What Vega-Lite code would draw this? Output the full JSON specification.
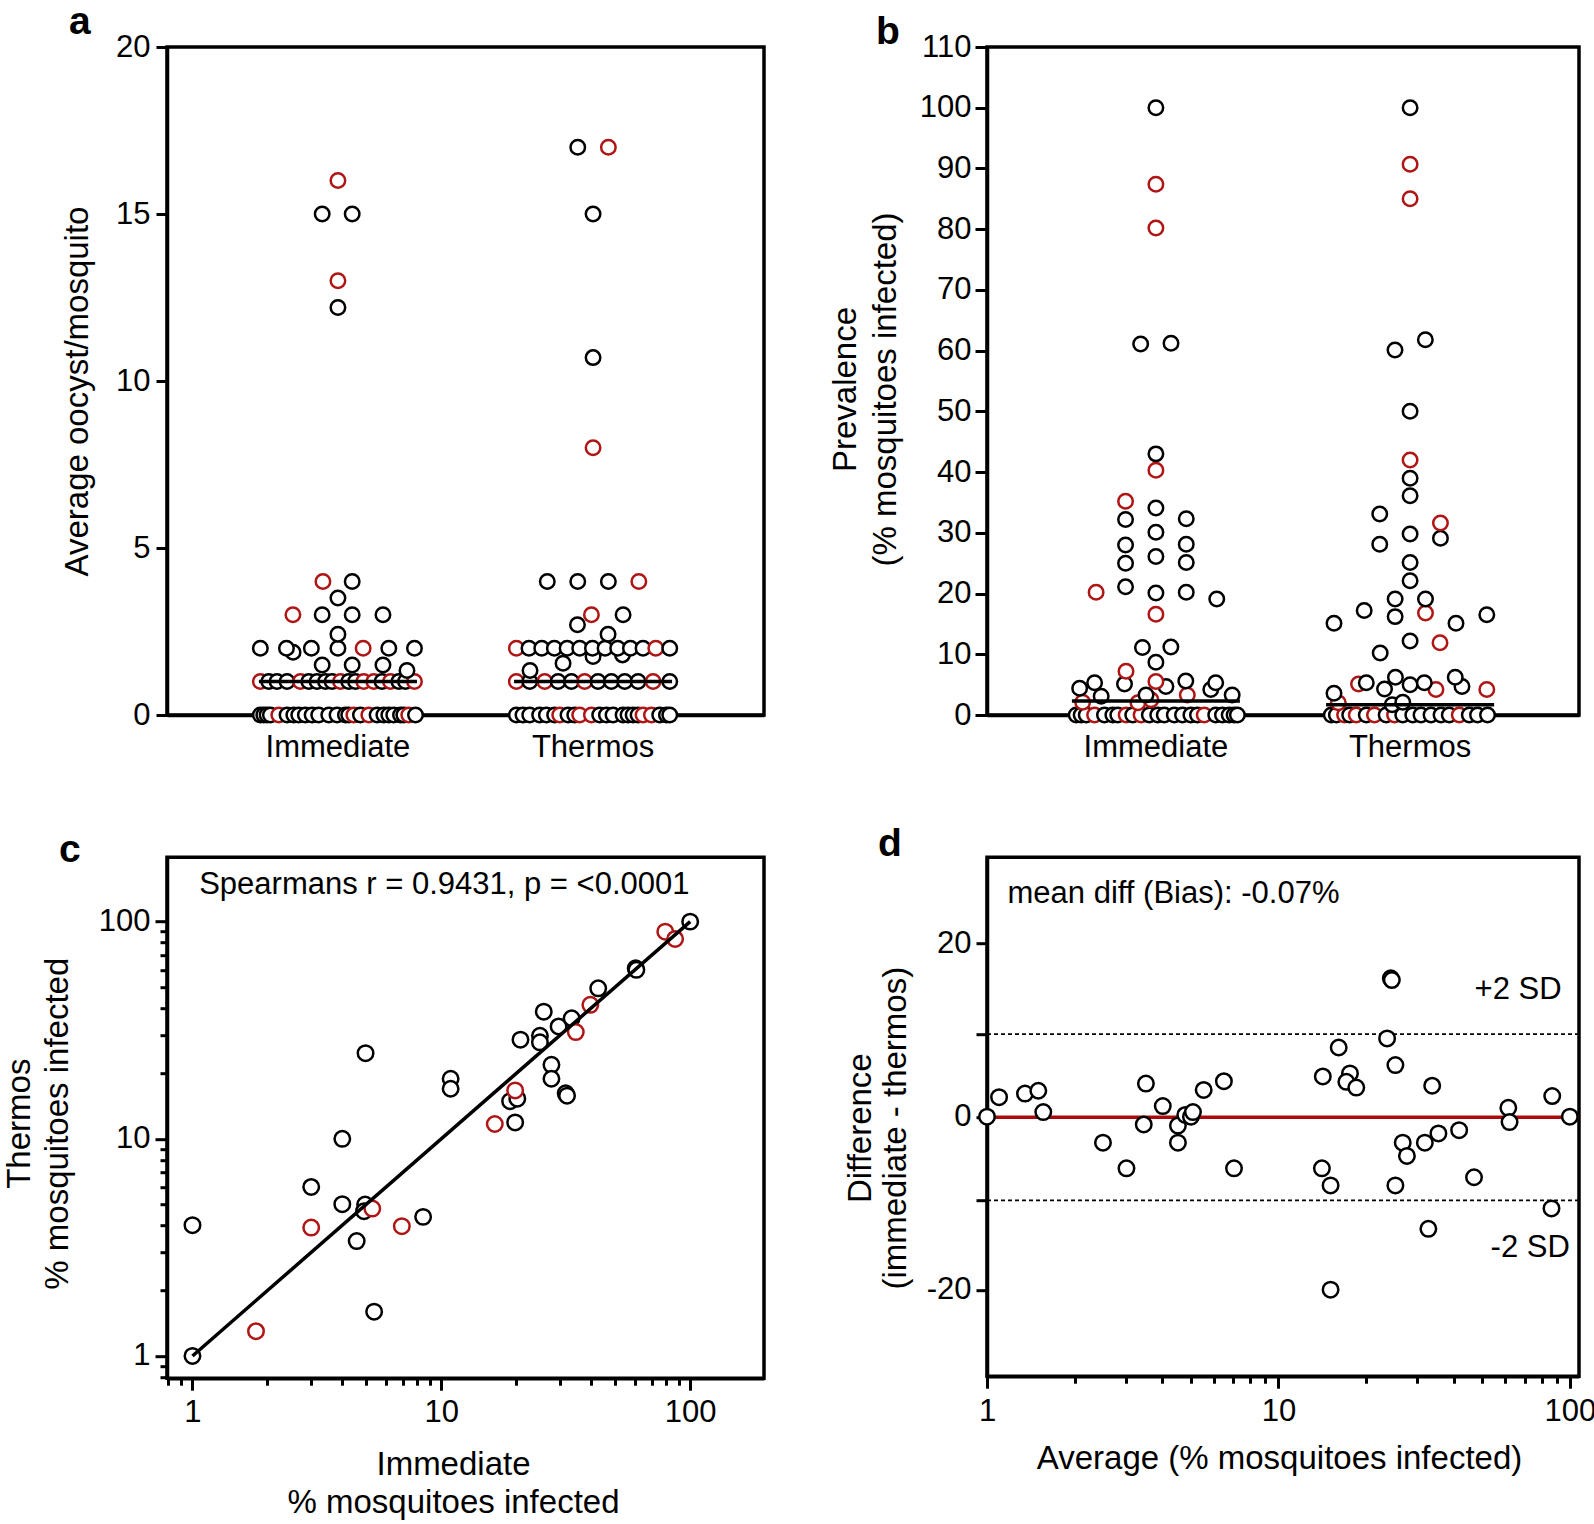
{
"$schema":"https://vega.github.io/schema/vega-lite/v6.json",
"background":"white",
"padding":{"left":1,"top":0,"right":0,"bottom":0},
"config":{"font":"Liberation Sans","view":{"stroke":"black","strokeWidth":3.5},
 "axis":{"domainColor":"black","domainWidth":3.5,"tickColor":"black","tickWidth":3,"labelColor":"black","titleColor":"black","labelFont":"Liberation Sans","titleFont":"Liberation Sans","labelFontSize":31,"titleFontSize":33,"titleFontWeight":"normal","grid":false,"labelFlush":false,"labelOverlap":false},
 "title":{"font":"Liberation Sans","fontSize":39,"fontWeight":"bold","color":"black","anchor":"start","frame":"group","baseline":"alphabetic","offset":0}},
"datasets":{
"stripA":[
{"group":"Immediate","value":0,"jitter":-5.17,"set":"main"},{"group":"Immediate","value":0,"jitter":-4.94,"set":"main"},{"group":"Immediate","value":0,"jitter":-4.72,"set":"main"},{"group":"Immediate","value":0,"jitter":-4.5,"set":"main"},{"group":"Immediate","value":0,"jitter":-3.94,"set":"highlighted"},{"group":"Immediate","value":0,"jitter":-3.39,"set":"main"},{"group":"Immediate","value":0,"jitter":-2.94,"set":"main"},{"group":"Immediate","value":0,"jitter":-2.61,"set":"main"},{"group":"Immediate","value":0,"jitter":-2.17,"set":"main"},{"group":"Immediate","value":0,"jitter":-1.72,"set":"main"},{"group":"Immediate","value":0,"jitter":-1.28,"set":"main"},{"group":"Immediate","value":0,"jitter":-0.61,"set":"main"},{"group":"Immediate","value":0,"jitter":-0.06,"set":"main"},{"group":"Immediate","value":0,"jitter":0.5,"set":"main"},{"group":"Immediate","value":0,"jitter":0.72,"set":"main"},{"group":"Immediate","value":0,"jitter":1.06,"set":"highlighted"},{"group":"Immediate","value":0,"jitter":1.5,"set":"main"},{"group":"Immediate","value":0,"jitter":2.06,"set":"highlighted"},{"group":"Immediate","value":0,"jitter":2.61,"set":"main"},{"group":"Immediate","value":0,"jitter":3.06,"set":"main"},{"group":"Immediate","value":0,"jitter":3.39,"set":"main"},{"group":"Immediate","value":0,"jitter":3.72,"set":"main"},{"group":"Immediate","value":0,"jitter":4.17,"set":"main"},{"group":"Immediate","value":0,"jitter":4.39,"set":"main"},{"group":"Immediate","value":0,"jitter":4.72,"set":"highlighted"},{"group":"Immediate","value":0,"jitter":5.17,"set":"main"},
{"group":"Immediate","value":1,"jitter":-5.17,"set":"highlighted"},{"group":"Immediate","value":1,"jitter":-4.61,"set":"main"},{"group":"Immediate","value":1,"jitter":-4.06,"set":"main"},{"group":"Immediate","value":1,"jitter":-3.39,"set":"main"},{"group":"Immediate","value":1,"jitter":-2.5,"set":"highlighted"},{"group":"Immediate","value":1,"jitter":-1.94,"set":"main"},{"group":"Immediate","value":1,"jitter":-1.39,"set":"main"},{"group":"Immediate","value":1,"jitter":-0.83,"set":"main"},{"group":"Immediate","value":1,"jitter":-0.39,"set":"main"},{"group":"Immediate","value":1,"jitter":0.17,"set":"highlighted"},{"group":"Immediate","value":1,"jitter":0.72,"set":"main"},{"group":"Immediate","value":1,"jitter":1.17,"set":"main"},{"group":"Immediate","value":1,"jitter":1.72,"set":"highlighted"},{"group":"Immediate","value":1,"jitter":2.39,"set":"highlighted"},{"group":"Immediate","value":1,"jitter":2.94,"set":"main"},{"group":"Immediate","value":1,"jitter":3.5,"set":"highlighted"},{"group":"Immediate","value":1,"jitter":4.06,"set":"main"},{"group":"Immediate","value":1,"jitter":4.5,"set":"main"},{"group":"Immediate","value":1,"jitter":5.1,"set":"highlighted"},
{"group":"Immediate","value":1.33,"jitter":4.6,"set":"main"},{"group":"Immediate","value":1.5,"jitter":-1.05,"set":"main"},{"group":"Immediate","value":1.5,"jitter":0.95,"set":"main"},{"group":"Immediate","value":1.5,"jitter":3.0,"set":"main"},{"group":"Immediate","value":1.88,"jitter":-2.99,"set":"main"},
{"group":"Immediate","value":2,"jitter":-5.17,"set":"main"},{"group":"Immediate","value":2,"jitter":-3.43,"set":"main"},{"group":"Immediate","value":2,"jitter":-1.77,"set":"main"},{"group":"Immediate","value":2,"jitter":0,"set":"main"},{"group":"Immediate","value":2,"jitter":1.68,"set":"highlighted"},{"group":"Immediate","value":2,"jitter":3.39,"set":"main"},{"group":"Immediate","value":2,"jitter":5.1,"set":"main"},
{"group":"Immediate","value":2.42,"jitter":0,"set":"main"},{"group":"Immediate","value":3,"jitter":-3.0,"set":"highlighted"},{"group":"Immediate","value":3,"jitter":-1.05,"set":"main"},{"group":"Immediate","value":3,"jitter":0.95,"set":"main"},{"group":"Immediate","value":3,"jitter":3.0,"set":"main"},{"group":"Immediate","value":3.5,"jitter":0,"set":"main"},{"group":"Immediate","value":4,"jitter":-1.0,"set":"highlighted"},{"group":"Immediate","value":4,"jitter":0.95,"set":"main"},
{"group":"Immediate","value":12.2,"jitter":0,"set":"main"},{"group":"Immediate","value":13,"jitter":0,"set":"highlighted"},{"group":"Immediate","value":15,"jitter":-1.05,"set":"main"},{"group":"Immediate","value":15,"jitter":0.95,"set":"main"},{"group":"Immediate","value":16,"jitter":0,"set":"highlighted"},
{"group":"Thermos","value":0,"jitter":-5.11,"set":"main"},{"group":"Thermos","value":0,"jitter":-4.67,"set":"main"},{"group":"Thermos","value":0,"jitter":-4.22,"set":"main"},{"group":"Thermos","value":0,"jitter":-3.56,"set":"main"},{"group":"Thermos","value":0,"jitter":-3.11,"set":"main"},{"group":"Thermos","value":0,"jitter":-2.56,"set":"main"},{"group":"Thermos","value":0,"jitter":-2.22,"set":"highlighted"},{"group":"Thermos","value":0,"jitter":-1.67,"set":"main"},{"group":"Thermos","value":0,"jitter":-1.22,"set":"main"},{"group":"Thermos","value":0,"jitter":-0.89,"set":"highlighted"},{"group":"Thermos","value":0,"jitter":-0.11,"set":"highlighted"},{"group":"Thermos","value":0,"jitter":0.44,"set":"main"},{"group":"Thermos","value":0,"jitter":0.89,"set":"main"},{"group":"Thermos","value":0,"jitter":1.33,"set":"main"},{"group":"Thermos","value":0,"jitter":2.0,"set":"main"},{"group":"Thermos","value":0,"jitter":2.33,"set":"main"},{"group":"Thermos","value":0,"jitter":2.67,"set":"main"},{"group":"Thermos","value":0,"jitter":3.0,"set":"main"},{"group":"Thermos","value":0,"jitter":3.33,"set":"highlighted"},{"group":"Thermos","value":0,"jitter":3.89,"set":"highlighted"},{"group":"Thermos","value":0,"jitter":4.44,"set":"main"},{"group":"Thermos","value":0,"jitter":4.89,"set":"main"},{"group":"Thermos","value":0,"jitter":5.11,"set":"main"},
{"group":"Thermos","value":1,"jitter":-5.11,"set":"highlighted"},{"group":"Thermos","value":1,"jitter":-4.22,"set":"main"},{"group":"Thermos","value":1,"jitter":-3.22,"set":"highlighted"},{"group":"Thermos","value":1,"jitter":-2.33,"set":"main"},{"group":"Thermos","value":1,"jitter":-1.44,"set":"main"},{"group":"Thermos","value":1,"jitter":-0.56,"set":"highlighted"},{"group":"Thermos","value":1,"jitter":0.33,"set":"main"},{"group":"Thermos","value":1,"jitter":1.22,"set":"main"},{"group":"Thermos","value":1,"jitter":2.11,"set":"main"},{"group":"Thermos","value":1,"jitter":3.0,"set":"main"},{"group":"Thermos","value":1,"jitter":4.0,"set":"highlighted"},{"group":"Thermos","value":1,"jitter":5.11,"set":"main"},
{"group":"Thermos","value":1.33,"jitter":-4.2,"set":"main"},{"group":"Thermos","value":1.55,"jitter":-2.0,"set":"main"},{"group":"Thermos","value":1.75,"jitter":0,"set":"main"},{"group":"Thermos","value":1.8,"jitter":1.96,"set":"main"},
{"group":"Thermos","value":2,"jitter":-5.11,"set":"highlighted"},{"group":"Thermos","value":2,"jitter":-4.27,"set":"main"},{"group":"Thermos","value":2,"jitter":-3.42,"set":"main"},{"group":"Thermos","value":2,"jitter":-2.58,"set":"main"},{"group":"Thermos","value":2,"jitter":-1.73,"set":"main"},{"group":"Thermos","value":2,"jitter":-0.89,"set":"main"},{"group":"Thermos","value":2,"jitter":-0.04,"set":"main"},{"group":"Thermos","value":2,"jitter":0.8,"set":"main"},{"group":"Thermos","value":2,"jitter":1.64,"set":"main"},{"group":"Thermos","value":2,"jitter":2.49,"set":"main"},{"group":"Thermos","value":2,"jitter":3.33,"set":"main"},{"group":"Thermos","value":2,"jitter":4.18,"set":"highlighted"},{"group":"Thermos","value":2,"jitter":5.11,"set":"main"},
{"group":"Thermos","value":2.42,"jitter":1.0,"set":"main"},{"group":"Thermos","value":2.7,"jitter":-1.04,"set":"main"},{"group":"Thermos","value":3,"jitter":-0.11,"set":"highlighted"},{"group":"Thermos","value":3,"jitter":2.0,"set":"main"},{"group":"Thermos","value":4,"jitter":-3.05,"set":"main"},{"group":"Thermos","value":4,"jitter":-1.02,"set":"main"},{"group":"Thermos","value":4,"jitter":1.02,"set":"main"},{"group":"Thermos","value":4,"jitter":3.05,"set":"highlighted"},
{"group":"Thermos","value":8,"jitter":0,"set":"highlighted"},{"group":"Thermos","value":10.7,"jitter":0,"set":"main"},{"group":"Thermos","value":15,"jitter":0,"set":"main"},{"group":"Thermos","value":17,"jitter":-1.02,"set":"main"},{"group":"Thermos","value":17,"jitter":1.02,"set":"highlighted"}
],
"mediansA":[{"group":"Immediate","value":1},{"group":"Thermos","value":1}],
"stripB":[
{"group":"Immediate","value":0,"jitter":-5.33,"set":"main"},{"group":"Immediate","value":0,"jitter":-5.0,"set":"main"},{"group":"Immediate","value":0,"jitter":-4.66,"set":"main"},{"group":"Immediate","value":0,"jitter":-4.1,"set":"highlighted"},{"group":"Immediate","value":0,"jitter":-3.44,"set":"main"},{"group":"Immediate","value":0,"jitter":-2.88,"set":"main"},{"group":"Immediate","value":0,"jitter":-2.55,"set":"main"},{"group":"Immediate","value":0,"jitter":-1.99,"set":"highlighted"},{"group":"Immediate","value":0,"jitter":-1.55,"set":"main"},{"group":"Immediate","value":0,"jitter":-0.99,"set":"highlighted"},{"group":"Immediate","value":0,"jitter":-0.44,"set":"main"},{"group":"Immediate","value":0,"jitter":0.12,"set":"main"},{"group":"Immediate","value":0,"jitter":0.56,"set":"main"},{"group":"Immediate","value":0,"jitter":1.23,"set":"main"},{"group":"Immediate","value":0,"jitter":1.78,"set":"main"},{"group":"Immediate","value":0,"jitter":2.34,"set":"main"},{"group":"Immediate","value":0,"jitter":2.78,"set":"main"},{"group":"Immediate","value":0,"jitter":3.23,"set":"highlighted"},{"group":"Immediate","value":0,"jitter":4.0,"set":"main"},{"group":"Immediate","value":0,"jitter":4.45,"set":"main"},{"group":"Immediate","value":0,"jitter":4.9,"set":"main"},{"group":"Immediate","value":0,"jitter":5.23,"set":"main"},{"group":"Immediate","value":0,"jitter":5.45,"set":"main"},
{"group":"Immediate","value":2.0,"jitter":-1.2,"set":"highlighted"},{"group":"Immediate","value":2.1,"jitter":-4.9,"set":"highlighted"},{"group":"Immediate","value":2.5,"jitter":-0.33,"set":"highlighted"},{"group":"Immediate","value":3.1,"jitter":-3.66,"set":"main"},{"group":"Immediate","value":3.3,"jitter":-0.66,"set":"main"},{"group":"Immediate","value":3.3,"jitter":2.1,"set":"highlighted"},{"group":"Immediate","value":3.3,"jitter":5.1,"set":"main"},{"group":"Immediate","value":4.2,"jitter":3.67,"set":"main"},{"group":"Immediate","value":4.4,"jitter":-5.1,"set":"main"},{"group":"Immediate","value":4.7,"jitter":0.67,"set":"main"},{"group":"Immediate","value":5.1,"jitter":-2.1,"set":"main"},{"group":"Immediate","value":5.3,"jitter":-4.1,"set":"main"},{"group":"Immediate","value":5.3,"jitter":4.0,"set":"main"},{"group":"Immediate","value":5.5,"jitter":0,"set":"highlighted"},{"group":"Immediate","value":5.6,"jitter":2.0,"set":"main"},{"group":"Immediate","value":7.2,"jitter":-2.0,"set":"highlighted"},{"group":"Immediate","value":8.7,"jitter":0,"set":"main"},{"group":"Immediate","value":11.1,"jitter":-0.9,"set":"main"},{"group":"Immediate","value":11.2,"jitter":1.0,"set":"main"},{"group":"Immediate","value":16.6,"jitter":0,"set":"highlighted"},{"group":"Immediate","value":19.1,"jitter":4.07,"set":"main"},{"group":"Immediate","value":20.2,"jitter":-4.0,"set":"highlighted"},{"group":"Immediate","value":20.1,"jitter":0,"set":"main"},{"group":"Immediate","value":20.2,"jitter":2.03,"set":"main"},{"group":"Immediate","value":21.1,"jitter":-2.03,"set":"main"},{"group":"Immediate","value":25.0,"jitter":-2.03,"set":"main"},{"group":"Immediate","value":25.1,"jitter":2.03,"set":"main"},{"group":"Immediate","value":26.1,"jitter":0,"set":"main"},{"group":"Immediate","value":28.0,"jitter":-2.03,"set":"main"},{"group":"Immediate","value":28.1,"jitter":2.03,"set":"main"},{"group":"Immediate","value":30.1,"jitter":0,"set":"main"},{"group":"Immediate","value":32.2,"jitter":-2.03,"set":"main"},{"group":"Immediate","value":32.3,"jitter":2.03,"set":"main"},{"group":"Immediate","value":34.1,"jitter":0,"set":"main"},{"group":"Immediate","value":35.2,"jitter":-2.03,"set":"highlighted"},{"group":"Immediate","value":40.3,"jitter":0,"set":"highlighted"},{"group":"Immediate","value":43.0,"jitter":0,"set":"main"},{"group":"Immediate","value":61.1,"jitter":-1.02,"set":"main"},{"group":"Immediate","value":61.2,"jitter":1.01,"set":"main"},{"group":"Immediate","value":80.2,"jitter":0,"set":"highlighted"},{"group":"Immediate","value":87.4,"jitter":0,"set":"highlighted"},{"group":"Immediate","value":100,"jitter":0,"set":"main"},
{"group":"Thermos","value":0,"jitter":-5.27,"set":"main"},{"group":"Thermos","value":0,"jitter":-4.93,"set":"main"},{"group":"Thermos","value":0,"jitter":-4.38,"set":"highlighted"},{"group":"Thermos","value":0,"jitter":-4.04,"set":"main"},{"group":"Thermos","value":0,"jitter":-3.6,"set":"highlighted"},{"group":"Thermos","value":0,"jitter":-2.93,"set":"main"},{"group":"Thermos","value":0,"jitter":-2.38,"set":"highlighted"},{"group":"Thermos","value":0,"jitter":-1.6,"set":"main"},{"group":"Thermos","value":0,"jitter":-1.04,"set":"highlighted"},{"group":"Thermos","value":0,"jitter":-0.49,"set":"main"},{"group":"Thermos","value":0,"jitter":0.18,"set":"main"},{"group":"Thermos","value":0,"jitter":0.73,"set":"main"},{"group":"Thermos","value":0,"jitter":1.4,"set":"main"},{"group":"Thermos","value":0,"jitter":2.07,"set":"main"},{"group":"Thermos","value":0,"jitter":2.62,"set":"main"},{"group":"Thermos","value":0,"jitter":3.29,"set":"highlighted"},{"group":"Thermos","value":0,"jitter":3.96,"set":"main"},{"group":"Thermos","value":0,"jitter":4.51,"set":"main"},{"group":"Thermos","value":0,"jitter":5.18,"set":"main"},
{"group":"Thermos","value":1.7,"jitter":-1.2,"set":"main"},{"group":"Thermos","value":2.0,"jitter":-4.8,"set":"highlighted"},{"group":"Thermos","value":2.1,"jitter":-0.49,"set":"main"},{"group":"Thermos","value":3.6,"jitter":-5.09,"set":"main"},{"group":"Thermos","value":4.2,"jitter":1.73,"set":"highlighted"},{"group":"Thermos","value":4.2,"jitter":5.13,"set":"highlighted"},{"group":"Thermos","value":4.3,"jitter":-1.71,"set":"main"},{"group":"Thermos","value":4.7,"jitter":3.47,"set":"main"},{"group":"Thermos","value":5.0,"jitter":0,"set":"main"},{"group":"Thermos","value":5.1,"jitter":-3.45,"set":"highlighted"},{"group":"Thermos","value":5.3,"jitter":-2.93,"set":"main"},{"group":"Thermos","value":5.3,"jitter":0.95,"set":"main"},{"group":"Thermos","value":6.2,"jitter":-0.98,"set":"main"},{"group":"Thermos","value":6.2,"jitter":3.02,"set":"main"},{"group":"Thermos","value":10.2,"jitter":-2.0,"set":"main"},{"group":"Thermos","value":11.9,"jitter":2.0,"set":"highlighted"},{"group":"Thermos","value":12.2,"jitter":0,"set":"main"},{"group":"Thermos","value":15.1,"jitter":-5.09,"set":"main"},{"group":"Thermos","value":15.1,"jitter":3.07,"set":"main"},{"group":"Thermos","value":16.2,"jitter":-1.0,"set":"main"},{"group":"Thermos","value":16.5,"jitter":5.13,"set":"main"},{"group":"Thermos","value":16.8,"jitter":1.03,"set":"highlighted"},{"group":"Thermos","value":17.2,"jitter":-3.07,"set":"main"},{"group":"Thermos","value":19.1,"jitter":-1.0,"set":"main"},{"group":"Thermos","value":19.1,"jitter":1.03,"set":"main"},{"group":"Thermos","value":22.1,"jitter":0,"set":"main"},{"group":"Thermos","value":25.1,"jitter":0,"set":"main"},{"group":"Thermos","value":28.1,"jitter":-2.03,"set":"main"},{"group":"Thermos","value":29.1,"jitter":2.03,"set":"main"},{"group":"Thermos","value":29.8,"jitter":0,"set":"main"},{"group":"Thermos","value":31.6,"jitter":2.03,"set":"highlighted"},{"group":"Thermos","value":33.1,"jitter":-2.03,"set":"main"},{"group":"Thermos","value":36.1,"jitter":0,"set":"main"},{"group":"Thermos","value":39.0,"jitter":0,"set":"main"},{"group":"Thermos","value":42.0,"jitter":0,"set":"highlighted"},{"group":"Thermos","value":50,"jitter":0,"set":"main"},{"group":"Thermos","value":60.1,"jitter":-1.01,"set":"main"},{"group":"Thermos","value":61.8,"jitter":1.02,"set":"main"},{"group":"Thermos","value":85.0,"jitter":0,"set":"highlighted"},{"group":"Thermos","value":90.7,"jitter":0,"set":"highlighted"},{"group":"Thermos","value":100,"jitter":0,"set":"main"}
],
"mediansB":[{"group":"Immediate","value":2.3},{"group":"Thermos","value":1.7}],
"corr":[
{"immediate":1,"thermos":1,"set":"main"},{"immediate":1.8,"thermos":1.3,"set":"highlighted"},{"immediate":1,"thermos":4,"set":"main"},{"immediate":3,"thermos":6,"set":"main"},{"immediate":3,"thermos":3.9,"set":"highlighted"},{"immediate":4,"thermos":10,"set":"main"},{"immediate":4,"thermos":5,"set":"main"},{"immediate":4.94,"thermos":4.98,"set":"main"},{"immediate":4.89,"thermos":4.64,"set":"main"},{"immediate":5.28,"thermos":4.77,"set":"highlighted"},{"immediate":4.57,"thermos":3.38,"set":"main"},{"immediate":6.94,"thermos":3.96,"set":"highlighted"},{"immediate":8.45,"thermos":4.37,"set":"main"},{"immediate":5.37,"thermos":1.6,"set":"main"},{"immediate":16.4,"thermos":11.7,"set":"highlighted"},{"immediate":19.8,"thermos":11.9,"set":"main"},{"immediate":4.96,"thermos":24.8,"set":"main"},{"immediate":10.9,"thermos":18.9,"set":"main"},{"immediate":10.9,"thermos":17.0,"set":"main"},{"immediate":18.9,"thermos":14.9,"set":"main"},{"immediate":20.2,"thermos":15.3,"set":"main"},{"immediate":19.8,"thermos":16.7,"set":"highlighted"},{"immediate":20.8,"thermos":28.6,"set":"main"},{"immediate":24.9,"thermos":29.8,"set":"main"},{"immediate":24.9,"thermos":27.8,"set":"main"},{"immediate":25.8,"thermos":38.5,"set":"main"},{"immediate":27.7,"thermos":21.9,"set":"main"},{"immediate":27.7,"thermos":18.9,"set":"main"},{"immediate":29.6,"thermos":32.9,"set":"main"},{"immediate":31.6,"thermos":16.2,"set":"main"},{"immediate":32.0,"thermos":15.8,"set":"main"},{"immediate":33.4,"thermos":35.9,"set":"main"},{"immediate":34.7,"thermos":31.0,"set":"highlighted"},{"immediate":39.7,"thermos":41.4,"set":"highlighted"},{"immediate":42.7,"thermos":49.3,"set":"main"},{"immediate":60.4,"thermos":61.0,"set":"main"},{"immediate":60.8,"thermos":60.0,"set":"main"},{"immediate":79.4,"thermos":89.9,"set":"highlighted"},{"immediate":87.0,"thermos":83.2,"set":"highlighted"},{"immediate":100,"thermos":100,"set":"main"}
],
"fit":[{"immediate":1,"thermos":1},{"immediate":100,"thermos":100}],
"notesC":[{"immediate":1.064,"thermos":147,"note":"Spearmans r = 0.9431, p = <0.0001"}],
"ba":[
{"average":1,"difference":0},{"average":1.10,"difference":2.26},{"average":1.35,"difference":2.67},{"average":1.50,"difference":3.0},{"average":1.56,"difference":0.53},{"average":2.5,"difference":-3.0},{"average":3.01,"difference":-5.97},{"average":3.51,"difference":3.83},{"average":3.45,"difference":-0.9},{"average":4.01,"difference":1.23},{"average":4.52,"difference":-1.03},{"average":4.52,"difference":-3.0},{"average":4.79,"difference":0.2},{"average":5.01,"difference":0.0},{"average":5.09,"difference":0.53},{"average":5.54,"difference":3.09},{"average":6.5,"difference":4.1},{"average":7.04,"difference":-5.97},{"average":14.2,"difference":4.65},{"average":14.1,"difference":-5.97},{"average":15.1,"difference":-7.94},{"average":15.1,"difference":-20},{"average":16.1,"difference":8.0},{"average":17.6,"difference":5.0},{"average":17.1,"difference":4.03},{"average":18.5,"difference":3.37},{"average":23.6,"difference":9.05},{"average":24.3,"difference":16.0},{"average":24.5,"difference":15.8},{"average":25.2,"difference":5.97},{"average":25.2,"difference":-7.94},{"average":26.7,"difference":-3.0},{"average":27.6,"difference":-4.53},{"average":31.8,"difference":-3.0},{"average":32.7,"difference":-12.96},{"average":33.7,"difference":3.58},{"average":35.4,"difference":-1.93},{"average":41.7,"difference":-1.56},{"average":46.9,"difference":-7.0},{"average":61.5,"difference":1.03},{"average":62.1,"difference":-0.62},{"average":87.0,"difference":2.39},{"average":86.5,"difference":-10.6},{"average":100,"difference":0}
],
"bias":[{"difference":-0.07}],
"limits":[{"difference":9.55},{"difference":-9.67}],
"notesD":[{"average":1.176,"difference":25.7,"note":"mean diff (Bias): -0.07%"}],
"sdLabels":[{"average":93.7,"difference":14.6,"note":"+2 SD"},{"average":100,"difference":-15.2,"note":"-2 SD"}]
},
"spacing":810.2,
"bounds":"flush",
"resolve":{"scale":{"xOffset":"independent"}},
"vconcat":[
{"hconcat":[
 {"width":597,"height":668,
  "title":{"text":"a","dx":-98,"dy":14.5},
  "layer":[
   {"data":{"name":"stripA"},
    "mark":{"type":"point","shape":"circle","filled":true,"fill":"white","fillOpacity":1,"opacity":1,"size":210,"strokeWidth":2.5},
    "encoding":{
     "x":{"field":"group","type":"nominal","sort":["Immediate","Thermos"],"scale":{"paddingInner":0,"paddingOuter":0.17},"axis":{"title":null,"labelAngle":0,"tickSize":6,"labelPadding":11}},
     "xOffset":{"field":"jitter","type":"quantitative","scale":{"domain":[-8.5,8.5]}},
     "y":{"field":"value","type":"quantitative","scale":{"domain":[0,20],"nice":false},"axis":{"values":[0,5,10,15,20],"title":"Average oocyst/mosquito","titleX":-90,"titleY":344,"titleAngle":-90,"titleAlign":"center","titleBaseline":"middle","tickSize":11,"labelPadding":6}},
     "stroke":{"field":"set","type":"nominal","scale":{"domain":["main","highlighted"],"range":["#000000","#b01515"]},"legend":null}
    }},
   {"data":{"name":"mediansA"},"mark":{"type":"tick","size":158,"thickness":3.5,"color":"black","opacity":1},
    "encoding":{"x":{"field":"group","type":"nominal","sort":["Immediate","Thermos"]},"y":{"field":"value","type":"quantitative"}}}
  ]},
 {"width":592,"height":668,
  "title":{"text":"b","dx":-111,"dy":25.4},
  "layer":[
   {"data":{"name":"stripB"},
    "mark":{"type":"point","shape":"circle","filled":true,"fill":"white","fillOpacity":1,"opacity":1,"size":210,"strokeWidth":2.5},
    "encoding":{
     "x":{"field":"group","type":"nominal","sort":["Immediate","Thermos"],"scale":{"paddingInner":0,"paddingOuter":0.1645},"axis":{"title":null,"labelAngle":0,"tickSize":6,"labelPadding":11}},
     "xOffset":{"field":"jitter","type":"quantitative","scale":{"domain":[-8.5,8.5]}},
     "y":{"field":"value","type":"quantitative","scale":{"domain":[0,110],"nice":false},"axis":{"values":[0,10,20,30,40,50,60,70,80,90,100,110],"title":["Prevalence","(% mosquitoes infected)"],"titleX":-142,"titleY":342,"titleAngle":-90,"titleAlign":"center","titleBaseline":"middle","titleLineHeight":40.5,"tickSize":12,"labelPadding":4}},
     "stroke":{"field":"set","type":"nominal","scale":{"domain":["main","highlighted"],"range":["#000000","#b01515"]},"legend":null}
    }},
   {"data":{"name":"mediansB"},"mark":{"type":"tick","size":168,"thickness":3.5,"color":"black","opacity":1},
    "encoding":{"x":{"field":"group","type":"nominal","sort":["Immediate","Thermos"]},"y":{"field":"value","type":"quantitative"}}}
  ]}
 ],
 "spacing":223,"bounds":"flush","resolve":{"scale":{"xOffset":"independent"}}},
{"hconcat":[
 {"width":597,"height":521,
  "title":{"text":"c","dx":-108,"dy":17.1},
  "layer":[
   {"data":{"name":"corr"},
    "mark":{"type":"point","shape":"circle","filled":true,"fill":"white","fillOpacity":1,"opacity":1,"size":240,"strokeWidth":2.5},
    "encoding":{
     "x":{"field":"immediate","type":"quantitative","scale":{"type":"log","domain":[0.79,198],"nice":false},
      "axis":{"values":[0.8,0.9,1,2,3,4,5,6,7,8,9,10,20,30,40,50,60,70,80,90,100],"labelExpr":"datum.value == 1 ? '1' : datum.value == 10 ? '10' : datum.value == 100 ? '100' : ''","tickSize":{"condition":{"test":"datum.value == 1 || datum.value == 10 || datum.value == 100","value":12},"value":7},"labelPadding":7,"title":["Immediate","% mosquitoes infected"],"titleX":286,"titleY":86.5,"titleAngle":0,"titleAlign":"center","titleBaseline":"middle","titleLineHeight":37.5}},
     "y":{"field":"thermos","type":"quantitative","scale":{"type":"log","domain":[0.79,198],"nice":false},
      "axis":{"values":[0.8,0.9,1,2,3,4,5,6,7,8,9,10,20,30,40,50,60,70,80,90,100],"labelExpr":"datum.value == 1 ? '1' : datum.value == 10 ? '10' : datum.value == 100 ? '100' : ''","tickSize":{"condition":{"test":"datum.value == 1 || datum.value == 10 || datum.value == 100","value":12},"value":7},"labelPadding":5,"title":["Thermos","% mosquitoes infected"],"titleX":-147.7,"titleY":266,"titleAngle":-90,"titleAlign":"center","titleBaseline":"middle","titleLineHeight":38.7}},
     "stroke":{"field":"set","type":"nominal","scale":{"domain":["main","highlighted"],"range":["#000000","#b01515"]},"legend":null}
    }},
   {"data":{"name":"fit"},"mark":{"type":"line","color":"black","strokeWidth":3.5},
    "encoding":{"x":{"field":"immediate","type":"quantitative"},"y":{"field":"thermos","type":"quantitative"}}},
   {"data":{"name":"notesC"},"mark":{"type":"text","align":"left","baseline":"middle","fontSize":31,"font":"Liberation Sans","color":"black"},
    "encoding":{"x":{"field":"immediate","type":"quantitative"},"y":{"field":"thermos","type":"quantitative"},"text":{"field":"note"}}}
  ]},
 {"width":592,"height":519,
  "title":{"text":"d","dx":-109,"dy":10.5},
  "layer":[
   {"data":{"name":"bias"},"mark":{"type":"rule","color":"#aa0a0a","strokeWidth":3.5},
    "encoding":{"y":{"field":"difference","type":"quantitative"}}},
   {"data":{"name":"limits"},"mark":{"type":"rule","color":"black","strokeWidth":1.7,"strokeDash":[4,3]},
    "encoding":{"y":{"field":"difference","type":"quantitative"}}},
   {"data":{"name":"ba"},
    "mark":{"type":"point","shape":"circle","filled":true,"fill":"white","fillOpacity":1,"opacity":1,"size":240,"strokeWidth":2.5,"stroke":"black"},
    "encoding":{
     "x":{"field":"average","type":"quantitative","scale":{"type":"log","domain":[1,107.5],"nice":false},
      "axis":{"values":[1,2,3,4,5,6,7,8,9,10,20,30,40,50,60,70,80,90,100],"labelExpr":"datum.value == 1 ? '1' : datum.value == 10 ? '10' : datum.value == 100 ? '100' : ''","tickSize":{"condition":{"test":"datum.value == 1 || datum.value == 10 || datum.value == 100","value":12},"value":7},"labelPadding":8,"title":"Average (% mosquitoes infected)","titleX":292,"titleY":82.5,"titleAngle":0,"titleAlign":"center","titleBaseline":"middle"}},
     "y":{"field":"difference","type":"quantitative","scale":{"domain":[-30,30],"nice":false},
      "axis":{"values":[-20,-9.67,0,9.55,20],"labelExpr":"datum.value == 20 ? '20' : datum.value == 0 ? '0' : datum.value == -20 ? '-20' : ''","tickSize":11,"labelPadding":5,"title":["Difference","(immediate - thermos)"],"titleX":-127,"titleY":270.5,"titleAngle":-90,"titleAlign":"center","titleBaseline":"middle","titleLineHeight":35.6}}
    }},
   {"data":{"name":"notesD"},"mark":{"type":"text","align":"left","baseline":"middle","fontSize":31,"font":"Liberation Sans","color":"black"},
    "encoding":{"x":{"field":"average","type":"quantitative"},"y":{"field":"difference","type":"quantitative"},"text":{"field":"note"}}},
   {"data":{"name":"sdLabels"},"mark":{"type":"text","align":"right","baseline":"middle","fontSize":31,"font":"Liberation Sans","color":"black"},
    "encoding":{"x":{"field":"average","type":"quantitative"},"y":{"field":"difference","type":"quantitative"},"text":{"field":"note"}}}
  ]}
 ],
 "spacing":223,"bounds":"flush"}
]
}
